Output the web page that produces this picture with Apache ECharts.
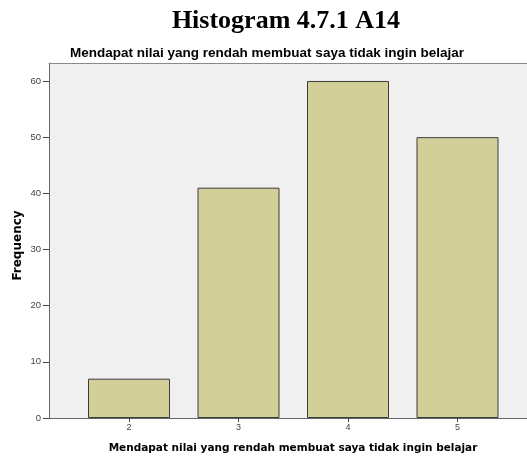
<!DOCTYPE html>
<html>
<head>
<meta charset="utf-8">
<script src="https://cdn.jsdelivr.net/npm/echarts@6/dist/echarts.min.js"></script>
<style>html,body{margin:0;padding:0;background:#fff}#c{width:527px;height:462px}</style>
</head>
<body>
<div id="c"></div>
<script>
var categories = [2, 3, 4, 5];
var frequencies = [7, 41, 60, 50];
var yTicks = [0, 10, 20, 30, 40, 50, 60];
var chartTitle = 'Histogram 4.7.1 A14';
var subTitle = 'Mendapat nilai yang rendah membuat saya tidak ingin belajar';
var xName = 'Mendapat nilai yang rendah membuat saya tidak ingin belajar';
var yName = 'Frequency';

var chart = echarts.init(document.getElementById('c'), null, {renderer: 'canvas'});
chart.setOption({
  animation: false,
  backgroundColor: '#ffffff',
  title: [
    {text: chartTitle, left: 281, top: 3, textAlign: 'center',
     textStyle: {fontFamily: 'Liberation Serif', fontWeight: 'bold', fontSize: 26, color: '#000'}},
    {text: subTitle, left: 262, top: 41, textAlign: 'center',
     textStyle: {fontFamily: 'Liberation Sans', fontWeight: 'bold', fontSize: 13.5, color: '#000'}}
  ],
  grid: {left: 49, top: 63, right: 0, bottom: 44, show: true,
         backgroundColor: '#f0f0f0', borderWidth: 0},
  xAxis: [{
    type: 'value', min: 1.2694, max: 5.6347,
    name: xName, nameLocation: 'middle', nameGap: 25,
    nameTextStyle: {fontFamily: 'DejaVu Sans', fontWeight: 'bold', fontSize: 10.5, color: '#000', padding: [0, 0, 0, 10]},
    splitLine: {show: false},
    axisLine: {show: true, lineStyle: {color: '#666', width: 1}},
    axisTick: {show: true, customValues: categories, length: 4, lineStyle: {color: '#444'}},
    axisLabel: {customValues: categories, fontFamily: 'Liberation Sans', fontSize: 9, color: '#444', margin: 5}
  }, {
    type: 'value', position: 'top', min: 1.2694, max: 5.6347,
    splitLine: {show: false},
    axisLine: {show: true, lineStyle: {color: '#8a8a8a', width: 1}},
    axisTick: {show: false},
    axisLabel: {show: false}
  }],
  yAxis: {
    type: 'value', min: 0, max: 63.2,
    name: yName, nameLocation: 'middle', nameGap: 25, nameRotate: 90, nameMoveOverlap: false,
    nameTextStyle: {fontFamily: 'DejaVu Sans', fontWeight: 'bold', fontSize: 12, color: '#000', padding: [0, 10, 0, 0]},
    splitLine: {show: false},
    axisLine: {show: true, lineStyle: {color: '#666', width: 1}},
    axisTick: {show: true, customValues: yTicks, length: 6, lineStyle: {color: '#444'}},
    axisLabel: {customValues: yTicks, fontFamily: 'Liberation Sans', fontSize: 9.5, color: '#444', margin: 8}
  },
  series: [{
    type: 'bar',
    barWidth: 82,
    data: categories.map(function (c, i) { return [c, frequencies[i]]; }),
    itemStyle: {color: '#d3cf98', borderColor: '#3c3c3c', borderWidth: 1}
  }]
});
</script>
</body>
</html>
